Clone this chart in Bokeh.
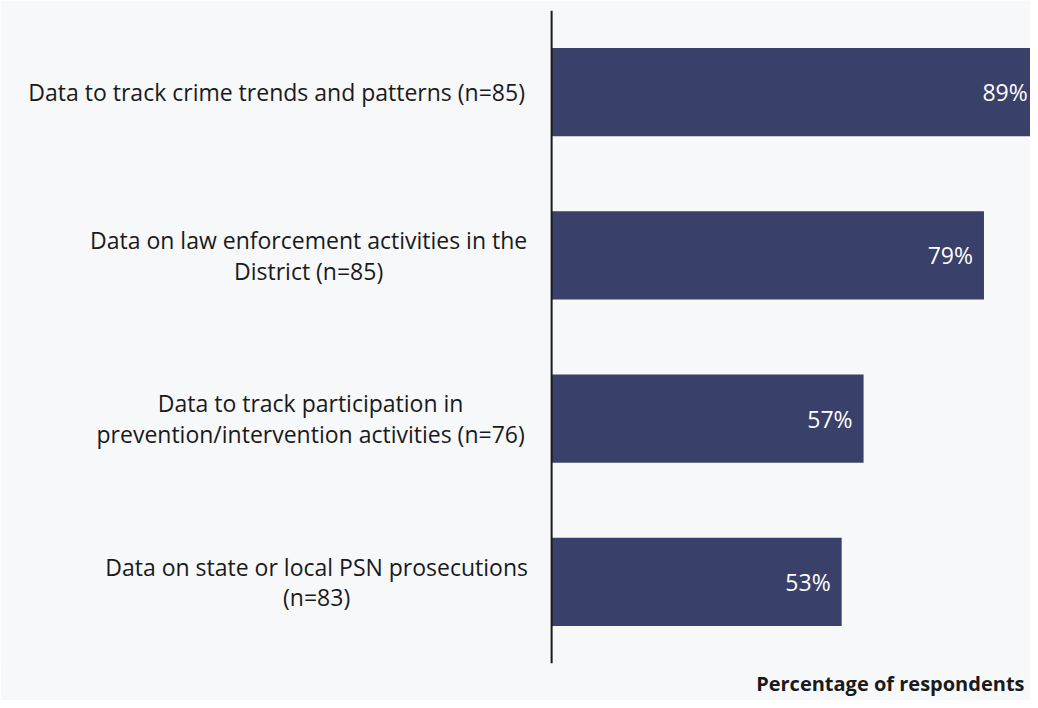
from bokeh.plotting import figure
from bokeh.models import ColumnDataSource, Span, Title
from bokeh.core.properties import value
from bokeh.embed import file_html
from bokeh.resources import INLINE

categories = [
    "Data to track crime trends and patterns (n=85)",
    "Data on law enforcement activities in the\nDistrict (n=85)",
    "Data to track participation in\nprevention/intervention activities (n=76)",
    "Data on state or local PSN prosecutions\n(n=83)",
]
values = [89, 79, 57, 53]
labels = [f"{v}%" for v in values]
x_title = "Percentage of respondents"

FONT = "Open Sans"
BG = "#f7f8fa"
BAR = "#394069"
INK = "#1a1a1a"

# horizontal offsets (px, relative to the axis) of each label block's centre
label_dx = [-275, -243, -241, -235]

src = ColumnDataSource(dict(cat=categories, val=values, lab=labels, dx=label_dx))

p = figure(
    width=1030, height=700, y_range=list(reversed(categories)),
    x_range=(-100.7, 87.5), output_backend="svg", toolbar_location=None,
    background_fill_color=BG, border_fill_color=BG, outline_line_color=None,
    min_border_top=10, min_border_right=0, min_border_left=0,
    min_border_bottom=0,
)
p.hbar(y="cat", right="val", left=0, height=0.54, source=src,
       fill_color=BAR, line_color=None)
p.text(x="val", y="cat", text="lab", source=src, x_offset=-11,
       text_align="right", text_baseline="middle", text_color="white",
       text_font=value(FONT), text_font_size="23px")
p.text(x=0, y="cat", text="cat", source=src, x_offset="dx",
       text_align="center", text_baseline="middle", text_color=INK,
       text_font=value(FONT), text_font_size="23px", text_line_height=0.96)
p.add_layout(Span(location=0, dimension="height", line_color=INK, line_width=2))

p.xaxis.visible = False
p.yaxis.visible = False
p.xgrid.visible = False
p.ygrid.visible = False

p.add_layout(Title(text=x_title, align="right", offset=6, standoff=8,
                   text_font=FONT, text_font_size="20px", text_font_style="bold",
                   text_color=INK), "below")

open("out.html", "w").write(file_html(p, INLINE))
